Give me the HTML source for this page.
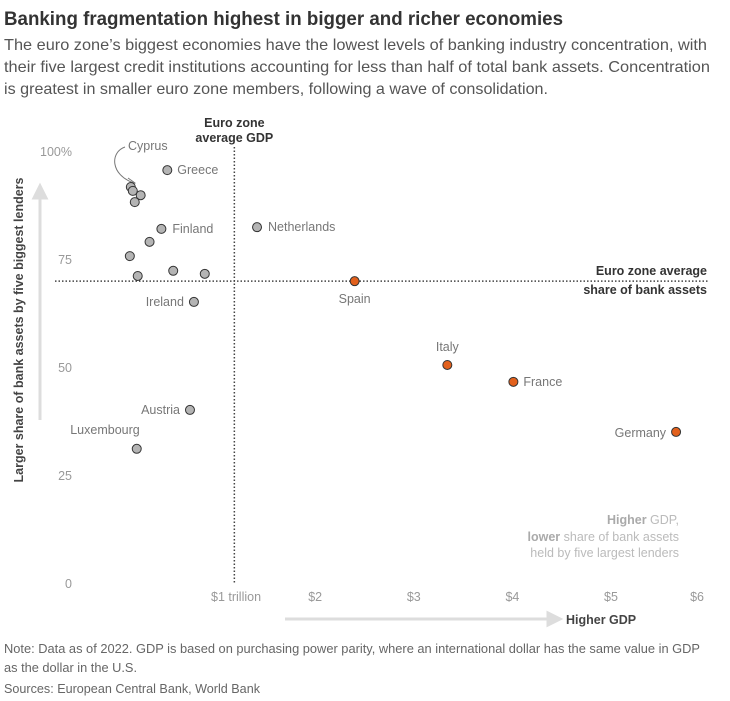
<!DOCTYPE html>
<html><head><meta charset="utf-8"><style>
body{margin:0;background:#fff;}
svg{display:block;font-family:"Liberation Sans",sans-serif;}
</style></head><body>
<svg id="chart" width="730" height="701" viewBox="0 0 730 701">
<text x="4" y="25" font-size="19" font-weight="bold" fill="#333" textLength="559" lengthAdjust="spacingAndGlyphs">Banking fragmentation highest in bigger and richer economies</text>
<g font-size="16" fill="#555">
<text x="4" y="50" textLength="703" lengthAdjust="spacingAndGlyphs">The euro zone’s biggest economies have the lowest levels of banking industry concentration, with</text>
<text x="4" y="72" textLength="706" lengthAdjust="spacingAndGlyphs">their five largest credit institutions accounting for less than half of total bank assets. Concentration</text>
<text x="4" y="94" textLength="544" lengthAdjust="spacingAndGlyphs">is greatest in smaller euro zone members, following a wave of consolidation.</text>
</g>
<g id="axes"></g>
<g id="marks"></g>
<g font-size="12.5" fill="#666">
<text x="4" y="653" textLength="696" lengthAdjust="spacingAndGlyphs">Note: Data as of 2022. GDP is based on purchasing power parity, where an international dollar has the same value in GDP</text>
<text x="4" y="672" textLength="133" lengthAdjust="spacingAndGlyphs">as the dollar in the U.S.</text>
<text x="4" y="693" textLength="256" lengthAdjust="spacingAndGlyphs">Sources: European Central Bank, World Bank</text>
</g>
</svg>
<script>
const countries=["Cyprus","c2","c3","c4","Greece","Finland","c7","c8","c9","c10","c11","Ireland","Netherlands","Spain","Italy","France","Germany","Austria","Luxembourg"];
const gdp=[0.13,0.15,0.23,0.17,0.50,0.44,0.32,0.12,0.20,0.56,0.88,0.77,1.41,2.40,3.34,4.01,5.66,0.73,0.19];
const share=[91.9,91.0,90.0,88.4,95.8,82.2,79.2,75.9,71.3,72.5,71.8,65.3,82.6,70.1,50.7,46.8,35.2,40.3,31.3];
const big=[false,false,false,false,false,false,false,false,false,false,false,false,false,true,true,true,true,false,false];
const xTicks=[1,2,3,4,5,6];
const xTickLabels=["$1 trillion","$2","$3","$4","$5","$6"];
const yTicks=[0,25,50,75,100];
const yTickLabels=["0","25","50","75","100%"];
const avgGdp=1.18;
const avgShare=70.1;

const NS="http://www.w3.org/2000/svg";
const x=v=>118+98.6*v;
const y=v=>584-4.32*v;
function mk(tag,attrs,parent,txt){const e=document.createElementNS(NS,tag);for(const k in attrs)e.setAttribute(k,attrs[k]);if(txt!==undefined)e.textContent=txt;parent.appendChild(e);return e;}
const axes=document.getElementById('axes'),marks=document.getElementById('marks');

yTicks.forEach((t,i)=>{
  const e=mk('text',{x:72,y:y(t)+4,'font-size':12.5,fill:'#999','text-anchor':'end'},axes,yTickLabels[i]);
  
  
});
xTicks.forEach((t,i)=>{
  const px=x(t);
  const e=mk('text',{x:i==0?211:(i==5?704:px),y:601,'font-size':12.5,fill:'#999','text-anchor':i==0?'start':(i==5?'end':'middle')},axes,xTickLabels[i]);
  
  
});
let l=mk('line',{x1:x(avgGdp),x2:x(avgGdp),y1:147,y2:584,stroke:'#444','stroke-width':1.5,'stroke-dasharray':'1.5 2'},axes);


l=mk('line',{x1:55,x2:708,y1:y(avgShare),y2:y(avgShare),stroke:'#444','stroke-width':1.5,'stroke-dasharray':'1.5 2'},axes);


let t=mk('text',{x:x(avgGdp),y:127,'font-size':12.5,'font-weight':'bold',fill:'#333','text-anchor':'middle'},axes,'Euro zone');


mk('text',{x:x(avgGdp),y:142,'font-size':12.5,'font-weight':'bold',fill:'#333','text-anchor':'middle'},axes,'average GDP');
t=mk('text',{x:707,y:275,'font-size':12.5,'font-weight':'bold',fill:'#333','text-anchor':'end'},axes,'Euro zone average');


mk('text',{x:707,y:294,'font-size':12.5,'font-weight':'bold',fill:'#333','text-anchor':'end'},axes,'share of bank assets');
let a=mk('path',{d:'M40 420 V190 M34 198 L40 186 L46 198 Z',stroke:'#ddd','stroke-width':3,fill:'#ddd'},axes);


t=mk('text',{transform:'translate(23,330) rotate(-90)','font-size':12.5,'font-weight':'bold',fill:'#444','text-anchor':'middle'},axes,'Larger share of bank assets by five biggest lenders');


a=mk('path',{d:'M285 619 H552 M548 613 L560 619 L548 625 Z',stroke:'#ddd','stroke-width':3,fill:'#ddd'},axes);


t=mk('text',{x:566,y:624,'font-size':12.5,'font-weight':'bold',fill:'#444'},axes,'Higher GDP');


const ann=mk('g',{'font-size':12.5,fill:'#bbb','text-anchor':'end'},axes);


ann.innerHTML='<text x="679" y="524"><tspan font-weight="bold" fill="#aaa">Higher</tspan> GDP,</text><text x="679" y="541"><tspan font-weight="bold" fill="#aaa">lower</tspan> share of bank assets</text><text x="679" y="557">held by five largest lenders</text>';
a=mk('path',{d:'M125 147 C110 152 110 175 134 183',stroke:'#777','stroke-width':1,fill:'none'},axes);


mk('path',{d:'M128 178 L135 183 L128 186',stroke:'#777','stroke-width':1,fill:'none'},axes);

const lab={Cyprus:{abs:[128,150],a:'start'},Greece:{dx:10,dy:4,a:'start'},Finland:{dx:11,dy:4,a:'start'},Netherlands:{dx:11,dy:4,a:'start'},Spain:{dx:0,dy:22,a:'middle'},Ireland:{dx:-10,dy:4,a:'end'},Italy:{dx:0,dy:-14,a:'middle'},France:{dx:10,dy:4,a:'start'},Germany:{dx:-10,dy:5,a:'end'},Austria:{dx:-10,dy:4,a:'end'},Luxembourg:{dx:3,dy:-15,a:'end'}};

countries.forEach((c,i)=>{
  const cx=x(gdp[i]),cy=y(share[i]);
  const p=mk('circle',{cx:cx,cy:cy,r:4.5,fill:big[i]?'#e2601c':'#b4b4b4',stroke:'#333','stroke-width':1},marks);
  
  
  const L=lab[c];
  if(L){
    const lx=L.abs?L.abs[0]:cx+L.dx, ly=L.abs?L.abs[1]:cy+L.dy;
    const tt=mk('text',{x:lx,y:ly,'font-size':12.5,fill:'#777','text-anchor':L.a},marks,c);
    
    
  }
});
</script>
</body></html>
